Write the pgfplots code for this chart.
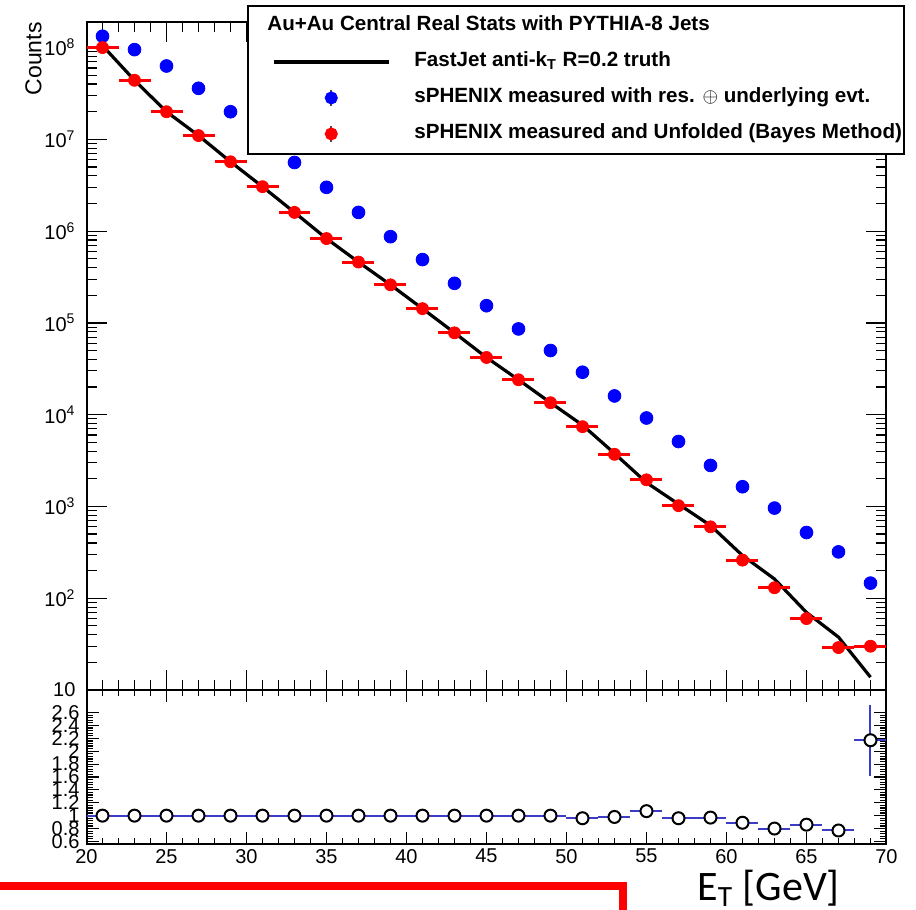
\documentclass[border=0pt]{standalone}
\usepackage{fontspec}
\setmainfont{Liberation Sans}
\newfontfamily\etfont{Carlito}
\usepackage{pgfplots}
\pgfplotsset{compat=1.18}
\definecolor{ratioblue}{RGB}{60,60,200}

\begin{document}
\begin{tikzpicture}[x=1pt,y=1pt]
\useasboundingbox (0,0) rectangle (458,-455);

% upper panel: spectra
\begin{axis}[
  at={(43.25pt,-11pt)}, anchor=north west,
  width=400pt, height=334pt, scale only axis,
  xmin=20, xmax=70,
  ymode=log, ymin=10, ymax=1.9e8,
  xtick={20,25,...,70}, minor x tick num=4, xticklabels={},
  ytick={10,100,1000,10000,100000,1000000,10000000,100000000},
  yticklabels={10,10\textsuperscript{2},10\textsuperscript{3},10\textsuperscript{4},10\textsuperscript{5},10\textsuperscript{6},10\textsuperscript{7},10\textsuperscript{8}},
  tick align=inside,
  major tick length=10pt, minor tick length=5pt,
  axis line style={line width=1pt},
  every tick/.style={black, line width=0.6pt},
  tick label style={font=\fontsize{10}{12}\selectfont},
  yticklabel style={xshift=-2pt},
  legend style={at={(axis description cs:0.2006,1.0254)}, anchor=north west,
    draw=black, line width=0.9pt, fill=white,
    font=\bfseries\fontsize{10.3}{12}\selectfont,
    inner xsep=1pt, inner ysep=5pt, row sep=8pt, column sep=12pt,
    nodes={inner sep=0pt, text height=7.5pt, text depth=2.5pt}},
  legend cell align=left,
]
% measured (blue)
\addplot[forget plot, only marks, mark=*, color=blue, mark size=3.2pt] coordinates {
(21,1.33e8) (23,9.5e7) (25,6.3e7) (27,3.6e7) (29,2.0e7) (31,1.06e7) (33,5.6e6)
(35,3.0e6) (37,1.6e6) (39,8.7e5) (41,4.9e5) (43,2.7e5) (45,1.54e5) (47,8.6e4)
(49,5.0e4) (51,2.9e4) (53,1.6e4) (55,9.2e3) (57,5.1e3) (59,2.8e3) (61,1.64e3)
(63,9.6e2) (65,5.2e2) (67,3.2e2) (69,1.46e2)};
% truth
\addplot[forget plot, black, line width=1.6pt, no marks] coordinates {
(21,1.05e8) (23,4.4e7) (25,2.0e7) (27,1.1e7) (29,5.7e6) (31,3.05e6) (33,1.6e6)
(35,8.3e5) (37,4.6e5) (39,2.6e5) (41,1.43e5) (43,7.8e4) (45,4.2e4) (47,2.4e4)
(49,1.35e4) (51,7.7e3) (53,3.78e3) (55,1.82e3) (57,1.06e3) (59,6.2e2) (61,2.92e2)
(63,1.62e2) (65,70) (67,37.7) (69,13.8)};
% unfolded (red)
\addplot[forget plot, only marks, mark=*, color=red, mark size=3pt,
  error bars/.cd, x dir=both, x explicit, error mark=none,
  error bar style={red, line width=1.5pt}] coordinates {
(21,1.0e8) +- (1,0) (23,4.4e7) +- (1,0) (25,2.0e7) +- (1,0) (27,1.1e7) +- (1,0)
(29,5.7e6) +- (1,0) (31,3.05e6) +- (1,0) (33,1.6e6) +- (1,0) (35,8.3e5) +- (1,0)
(37,4.6e5) +- (1,0) (39,2.6e5) +- (1,0) (41,1.43e5) +- (1,0) (43,7.8e4) +- (1,0)
(45,4.2e4) +- (1,0) (47,2.4e4) +- (1,0) (49,1.35e4) +- (1,0) (51,7.4e3) +- (1,0)
(53,3.7e3) +- (1,0) (55,1.95e3) +- (1,0) (57,1.02e3) +- (1,0) (59,6.0e2) +- (1,0)
(61,2.6e2) +- (1,0) (63,1.3e2) +- (1,0) (65,60) +- (1,0) (67,29) +- (1,0)
(69,30) +- (1,0)};

\addlegendimage{empty legend}
\addlegendentry{\hspace{-73.5pt}Au+Au Central Real Stats with PYTHIA-8 Jets}
\addlegendimage{legend image code/.code={\path (0pt,0pt); \draw[black,line width=1.6pt] (11.5pt,0pt) -- (69pt,0pt);}}
\addlegendentry{FastJet anti-k\textsubscript{T} R=0.2 truth}
\addlegendimage{legend image code/.code={\path (0pt,0pt) (69pt,0pt); \draw[black!70,line width=0.8pt] (40.25pt,-4pt) -- (40.25pt,4pt); \fill[blue] (40.25pt,0pt) circle (2.8pt);}}
\addlegendentry{sPHENIX measured with res. $\oplus$ underlying evt.}
\addlegendimage{legend image code/.code={\path (0pt,0pt) (69pt,0pt); \draw[black!70,line width=0.8pt] (40.25pt,-4pt) -- (40.25pt,4pt); \fill[red] (40.25pt,0pt) circle (2.8pt);}}
\addlegendentry{sPHENIX measured and Unfolded (Bayes Method)}
\end{axis}

% lower panel: ratio
\begin{axis}[
  at={(43.25pt,-345pt)}, anchor=north west,
  width=400pt, height=77pt, scale only axis,
  xmin=20, xmax=70, ymin=0.56, ymax=2.95,
  xtick={20,25,...,70}, minor x tick num=4,
  ytick={0.6,0.8,1,1.2,1.4,1.6,1.8,2,2.2,2.4,2.6},
  yticklabels={0.6,0.8,1,1.2,1.4,1.6,1.8,2,2.2,2.4,2.6},
  minor y tick num=4,
  tick align=inside,
  major tick length=6pt, minor tick length=3pt,
  axis line style={line width=1pt},
  every tick/.style={black, line width=0.6pt},
  tick label style={font=\fontsize{10}{12}\selectfont},
  /pgf/number format/assume math mode=true,
  xticklabel style={yshift=1pt},
]
\addplot[only marks, mark=*, mark size=3pt,
  mark options={fill=white, draw=black, line width=1pt},
  error bars/.cd, x dir=both, x explicit, y dir=both, y explicit, error mark=none,
  error bar style={ratioblue, line width=1pt}] coordinates {
(21,1.0) +- (1,0) (23,1.0) +- (1,0) (25,1.0) +- (1,0) (27,1.0) +- (1,0)
(29,1.0) +- (1,0) (31,1.0) +- (1,0) (33,1.0) +- (1,0) (35,1.0) +- (1,0)
(37,1.0) +- (1,0) (39,1.0) +- (1,0) (41,1.0) +- (1,0) (43,1.0) +- (1,0)
(45,1.0) +- (1,0) (47,1.0) +- (1,0) (49,1.0) +- (1,0) (51,0.96) +- (1,0)
(53,0.98) +- (1,0) (55,1.07) +- (1,0) (57,0.96) +- (1,0) (59,0.97) +- (1,0)
(61,0.89) +- (1,0) (63,0.80) +- (1,0) (65,0.86) +- (1,0) (67,0.77) +- (1,0)
(69,2.17) +- (1,0.55)};
\end{axis}

\node[rotate=90, anchor=south east, inner sep=0pt, font=\fontsize{11.5}{13}\selectfont] at (21,-11) {Counts};
\node[anchor=base west, inner sep=0pt, font=\etfont\fontsize{21}{24}\selectfont] at (348.5,-450) {E\textsubscript{T} [GeV]};
\draw[red, line width=4pt, line join=miter] (0,-443) -- (311.25,-443) -- (311.25,-458);
\end{tikzpicture}
\end{document}
